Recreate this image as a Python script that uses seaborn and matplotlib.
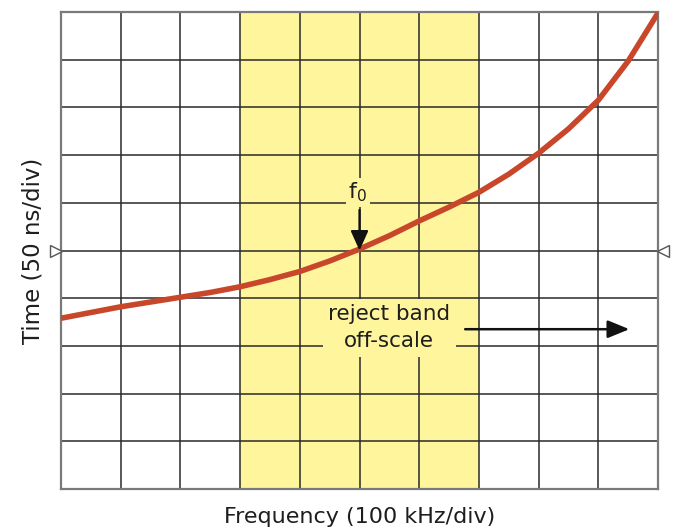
import matplotlib
matplotlib.use("Agg")
import matplotlib.pyplot as plt
import seaborn as sns
import pandas as pd

# Data (divisions)
freq_div = [0, 0.5, 1, 1.5, 2, 2.5, 3, 3.5, 4, 4.5, 5, 5.5, 6, 6.5, 7, 7.5, 8, 8.5, 9, 9.5, 10]
time_div = [3.58, 3.70, 3.82, 3.92, 4.02, 4.12, 4.24, 4.39, 4.56, 4.78, 5.03, 5.31, 5.62, 5.91,
            6.22, 6.60, 7.04, 7.55, 8.15, 8.97, 9.98]
band_start, band_end = 3, 7
f0_x, f0_y = 5, 5.0
x_label = "Frequency (100 kHz/div)"
y_label = "Time (50 ns/div)"
reject_text = "reject band\noff-scale"

sns.set_theme(style="white")
plt.rcParams['font.family'] = ['DejaVu Sans']

fig = plt.figure(figsize=(6.77, 5.29), dpi=100)
ax = fig.add_axes([61 / 677, 40 / 529, 597 / 677, 477 / 529])

YEL = "#FFF59D"
RED = "#C8472B"
TXT = "#1e1e1e"

ax.axvspan(band_start, band_end, color=YEL, zorder=0, lw=0)
for v in range(1, 10):
    ax.axvline(v, color="#2a2a2a", lw=1.1, zorder=1)
    ax.axhline(v, color="#2a2a2a", lw=1.1, zorder=1)

df = pd.DataFrame({"f": freq_div, "t": time_div})
sns.lineplot(data=df, x="f", y="t", ax=ax, color=RED, lw=4.0, zorder=5,
             estimator=None, sort=False)
ax.lines[-1].set_solid_capstyle("butt")
ax.lines[-1].set_solid_joinstyle("round")

ax.set_xlim(0, 10)
ax.set_ylim(0, 10)
ax.set_xticks([])
ax.set_yticks([])
for s in ax.spines.values():
    s.set_color("#7a7a7a")
    s.set_linewidth(1.6)

ax.set_xlabel(x_label, fontsize=16, color=TXT, labelpad=13)
ax.set_ylabel(y_label, fontsize=16.5, color=TXT, labelpad=12)

# f0 label and arrow
ax.text(f0_x - 0.03, 6.22, r"f$_\mathregular{0}$", fontsize=16, ha="center", va="center",
        color=TXT, zorder=6,
        bbox=dict(boxstyle="square,pad=0.12", fc=YEL, ec="none"))
ax.annotate("", xy=(f0_x, f0_y), xytext=(f0_x, 5.85),
            arrowprops=dict(arrowstyle="-|>,head_length=1.0,head_width=0.45",
                            color="#111111", lw=1.6, shrinkA=0, shrinkB=0), zorder=6)

# reject band text
ax.text(5.5, 3.38, reject_text, fontsize=15.5, ha="center", va="center",
        color=TXT, linespacing=1.45, zorder=6,
        bbox=dict(boxstyle="square,pad=0.25", fc=YEL, ec="none"))
ax.annotate("", xy=(9.52, 3.35), xytext=(6.77, 3.35),
            arrowprops=dict(arrowstyle="-|>,head_length=1.1,head_width=0.45",
                            color="#111111", lw=1.8, shrinkA=0, shrinkB=0), zorder=6)

# side triangle markers
ax.plot([-0.09], [5], marker=">", ms=8, mfc="white", mec="#555555", mew=1.0,
        clip_on=False, zorder=7)
ax.plot([10.09], [5], marker="<", ms=8, mfc="white", mec="#555555", mew=1.0,
        clip_on=False, zorder=7)

fig.savefig("out.png", dpi=100)
